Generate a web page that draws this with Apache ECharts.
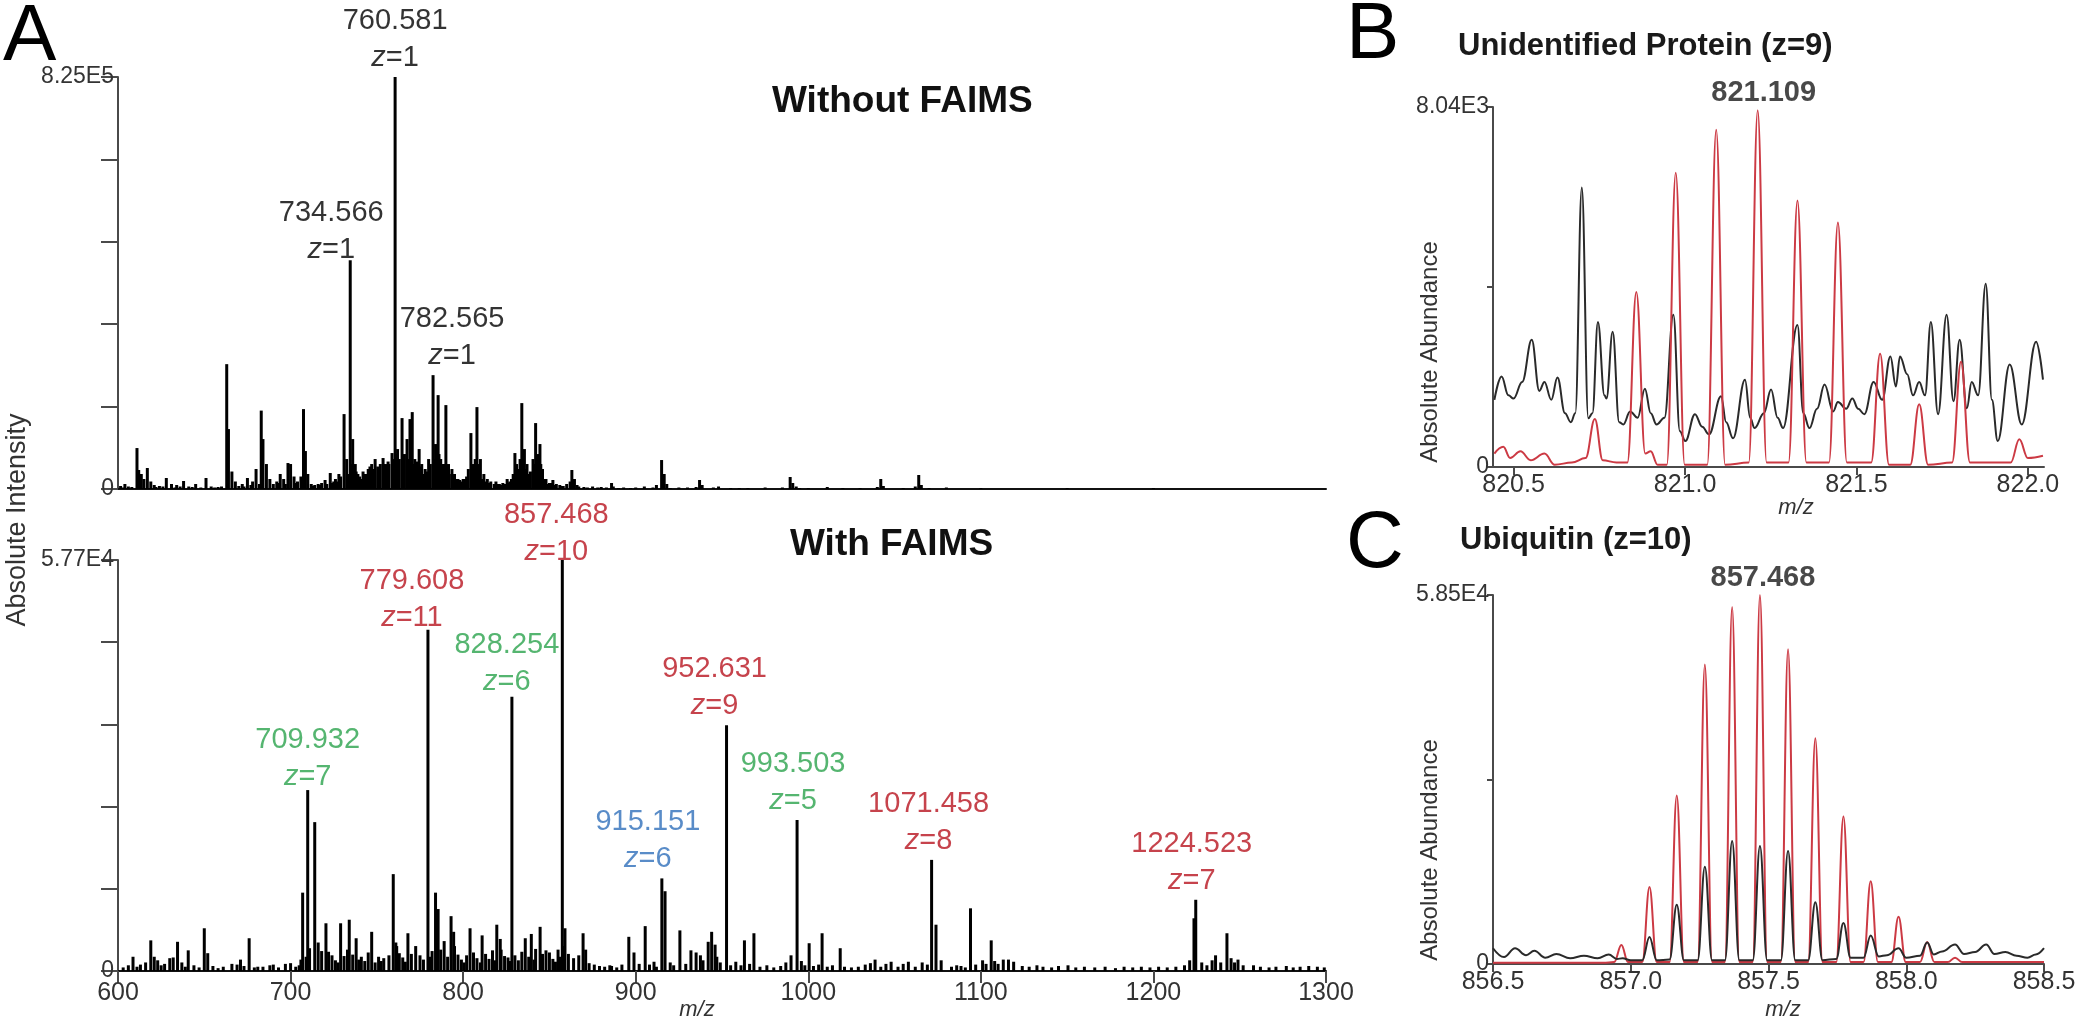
<!DOCTYPE html>
<html><head><meta charset="utf-8">
<script src="https://cdn.jsdelivr.net/npm/echarts@6/dist/echarts.min.js"></script>
<style>html,body{margin:0;padding:0;background:#fff}#c{width:2100px;height:1029px}</style>
</head><body><div id="c"></div>
<script>
// ---------------- DATA ----------------
// Panel A top (Without FAIMS): [m/z, intensity in units of 1E5]
const topPeaks = [[601.5,0.06],[604,0.1],[606,0.05],[611,0.82],[612,0.38],[613.5,0.3],[615,0.2],[617,0.42],[619,0.15],[621,0.08],[624,0.06],[628,0.22],[631,0.1],[634,0.08],[638,0.16],[641,0.05],[645,0.1],[651,0.22],[654,0.05],[658,0.04],
[663,2.5],[664,1.2],[666,0.35],[668,0.15],[672,0.1],[675,0.22],[678,0.15],[680,0.4],[683,1.57],[684,1.0],[686,0.5],[688,0.2],[692,0.15],[694,0.3],[696,0.2],[698.5,0.52],[700,0.5],[702,0.25],[704,0.15],[706,0.25],[707.5,1.6],[708.6,0.76],[710,0.3],[714,0.08],[716,0.1],[718,0.12],[720,0.18],[723,0.32],[725,0.15],[726,0.2],[728,0.3],[731,1.5],[732.5,0.6],
[734.566,4.58],[736,1.0],[737.5,0.5],[739,0.3],[741,0.2],[743,0.3],[745,0.4],[747,0.5],[749,0.6],[750.5,0.45],[752,0.5],[753.6,0.62],[755,0.5],[756.5,0.55],[758.8,0.72],[760.581,8.25],[762,0.8],[763,0.6],[764.6,1.42],[766,0.7],[767.5,1.0],[769.2,1.4],[770.5,1.54],[772,0.6],[774.5,0.8],[776,0.5],[778,0.4],[780,0.6],[782.565,2.28],[784,0.9],[785.5,1.88],[787,0.6],[788.5,0.5],[790,1.68],[791.5,0.5],[793.5,0.4],[795,0.3],[797,0.2],[799,0.15],[801,0.2],[803,0.4],[804.5,1.12],[806,0.5],[808,1.64],[810,0.6],[812,0.3],[814,0.2],[816,0.15],[819,0.15],[821,0.1],[823,0.12],[825.5,0.2],[827,0.15],[829,0.3],[830,0.72],[832,0.4],[834,1.72],[835.5,0.8],[837,0.5],[839,0.35],[840.5,0.6],[842,1.32],[843.5,0.7],[844.5,0.9],[846,0.4],[848,0.2],[850,0.12],[852,0.18],[854,0.1],[856,0.08],[858,0.06],[860,0.1],[863,0.38],[864.5,0.2],[866,0.08],[870,0.04],[875,0.05],[880,0.04],[886,0.12],[887,0.05],[893,0.03],[900,0.03],[905,0.05],[912,0.08],[915,0.58],[916.5,0.3],[918,0.1],[925,0.03],[930,0.03],[937,0.18],[938.5,0.08],[948,0.05],[955,0.02],[965,0.02],[975,0.03],[989.5,0.24],[991,0.12],[993,0.05],[1000,0.02],[1011,0.04],[1020,0.02],[1030,0.02],[1042,0.2],[1043.5,0.06],[1055,0.02],[1064,0.28],[1065.5,0.08],[1080,0.03],[1100,0.02],[1150,0.02],[1200,0.02]];
const topNoise = [[603,0.03],[608,0.04],[622,0.04],[626,0.05],[633,0.03],[636,0.05],[643,0.04],[648,0.03],[656,0.03],[660,0.05],[670,0.06],[673,0.05],[677,0.08],[682,0.1],[690,0.1],[693,0.12],[697,0.1],[703,0.12],[712,0.1],[713,0.06],[717,0.08],[721,0.1],[724,0.12],[727,0.15],[729,0.25],[733,0.3],[735.5,0.5],[738,0.35],[740,0.25],[742,0.35],[744,0.3],[746,0.45],[748,0.4],[751,0.4],[754,0.45],[757,0.5],[759.5,0.6],[761,0.7],[765,0.55],[768,0.6],[771,0.5],[773,0.55],[775,0.45],[777,0.3],[779,0.35],[781,0.5],[783,0.6],[786,0.7],[789,0.5],[792,0.3],[794,0.25],[796,0.2],[798,0.18],[800,0.2],[802,0.25],[805,0.4],[807,0.6],[809,0.5],[811,0.2],[813,0.15],[815,0.12],[818,0.1],[820,0.1],[822,0.08],[824,0.1],[826,0.12],[828,0.2],[831,0.5],[833,0.6],[836,0.4],[838,0.3],[841,0.5],[845,0.5],[847,0.2],[849,0.1],[851,0.12],[853,0.08],[857,0.06],[862,0.15],[867,0.05],[872,0.03],[878,0.03],[883,0.03],[890,0.02],[897,0.02],[910,0.03],[920,0.02],[935,0.04],[945,0.03],[960,0.02],[985,0.03],[995,0.02],[1040,0.04],[1062,0.05],[1070,0.02]];

// Panel A bottom (With FAIMS): [m/z, intensity in units of 1E3]
const botPeaks = [[608.7,2.0],[619,4.3],[621,2.0],[630,1.8],[634.5,4.1],[640.7,2.9],[650,6.0],[652,2.5],[666,1.0],[676,4.6],[684,0.6],[697,1.0],[707,11.0],[709.932,25.4],[714,20.9],[720.5,6.7],[722,2.7],[729,6.7],[734,7.2],[738,4.6],[747,5.5],[759.5,13.6],[761.5,3.5],[768,5.3],[772.5,3.5],[779.608,47.9],[784,11.0],[785.5,8.7],[793,7.7],[794.5,5.5],[804,6.0],[811,5.0],[819.5,6.5],[821.5,4.5],[828.254,38.5],[836,4.6],[839.5,5.2],[844.6,6.2],[848,2.9],[857.468,57.7],[859,6.0],[869.5,5.3],[871,3.0],[886,0.7],[896,4.8],[899,2.6],[905.5,6.3],[910.6,1.3],[915.151,13.0],[917,11.2],[925.6,5.7],[932,2.9],[935,2.6],[937.5,2.2],[942,4.1],[944,5.5],[946,3.7],[952.631,34.5],[963,4.3],[968.5,5.3],[990,2.2],[993.503,21.2],[1000.5,3.9],[1008,5.3],[1018.5,3.2],[1038.7,1.6],[1048,1.3],[1058,1.3],[1071.458,15.6],[1074,6.5],[1088.5,0.7],[1094,8.8],[1101,1.5],[1106,4.3],[1113,1.6],[1116,1.6],[1119,1.3],[1132.5,0.8],[1150.5,0.8],[1223.5,7.4],[1224.523,10.0],[1236,2.2],[1242.6,5.3],[1249,1.6],[1258,0.8],[1277,0.7]];
const botNoise = [[603,0.5],[606,0.8],[611,0.6],[613,0.9],[616,1.2],[623,1.5],[625,0.8],[627,1.0],[632,1.9],[637,1.2],[639,0.6],[644,0.8],[647,0.5],[655,0.7],[658,0.4],[661,0.6],[669,0.9],[671,1.6],[673,0.7],[679,0.5],[681,0.6],[688,0.8],[690,0.9],[693,0.5],[700,1.1],[703,0.6],[705,0.8],
[706,1.6],[709,2.0],[711,3.2],[716,4.0],[718,2.8],[724,2.2],[726,1.5],[727.5,1.2],[731,2.1],[733,3.0],[736,2.3],[739.5,1.6],[741,2.0],[743,1.4],[745,2.6],[749,1.2],[751,2.0],[752.5,1.4],[754,1.8],[757,2.2],[761,4.0],[763,2.5],[765,1.9],[766.5,1.3],[770,2.4],[775,2.2],[777,1.6],[780.5,2.0],[782,2.8],[787,3.0],[789,4.2],[791,2.0],[795,3.5],[797,2.3],[799,1.6],[800.5,1.2],[802,2.2],[806,2.6],[808,1.8],[810,1.2],[813,2.4],[815,1.7],[817,2.9],[818.5,1.5],[822,3.0],[824,2.1],[826,1.9],[827,1.4],[830,2.2],[832,1.5],[834,2.7],[838,2.0],[841,1.6],[842,3.1],[846,2.4],[850,2.6],[852,1.7],[853.5,1.3],[855,3.0],[856.2,2.0],[858.3,3.5],[861,2.4],[864,1.8],[867,2.2],[873,1.1],[876,0.9],[879,0.7],
[882,0.6],[885,0.8],[889,0.5],[892,0.9],[902,1.0],[908,0.9],[912,0.6],[920,1.2],[922,0.8],[929,1.0],[939,1.5],[947,2.0],[949,1.2],[955,0.8],[958,1.3],[961,0.8],[966,1.0],[972,0.6],[976,0.8],[980,0.5],[984,0.7],[987,1.2],[996,1.4],[998,0.8],
[1003,0.7],[1006,0.9],[1011,0.6],[1014,0.8],[1021,0.6],[1025,0.5],[1029,0.6],[1033,0.9],[1036,1.1],[1042,0.6],[1045,1.0],[1052,0.6],[1055,1.0],[1062,0.6],[1066,1.2],[1069,0.9],[1077,1.5],[1083,0.6],[1086,0.8],[1091,0.5],[1097,0.9],[1103,1.0],[1108,1.4],[1110,1.0],[1124,0.7],[1128,0.6],[1136,0.6],[1141,0.5],[1145,0.7],[1155,0.5],[1160,0.6],[1166,0.5],[1172,0.6],[1178,0.4],[1183,0.6],[1188,0.5],[1193,0.6],[1198,0.5],[1203,0.6],[1208,0.5],[1213,0.6],[1218,0.8],[1221,1.5],[1228,1.2],[1231,0.8],[1234,1.5],[1239,1.2],[1245,1.8],[1247,1.2],[1252,0.8],[1262,0.6],[1267,0.5],[1271,0.6],[1281,0.5],[1285,0.6],[1290,0.7],[1295,0.6],[1299,0.5]];

// Peak annotations
const topAnn = [
  {mz:760.581, I:8.25, text:'760.581', z:'1', color:'#000'},
  {mz:734.566, I:4.58, text:'734.566', z:'1', color:'#000'},
  {mz:782.565, I:2.28, text:'782.565', z:'1', color:'#000'}
];
const botAnn = [
  {mz:709.932, I:25.4, text:'709.932', z:'7', color:'#2aa24c'},
  {mz:779.608, I:47.9, text:'779.608', z:'11', color:'#b8141f'},
  {mz:828.254, I:38.5, text:'828.254', z:'6', color:'#2aa24c'},
  {mz:857.468, I:57.7, text:'857.468', z:'10', color:'#b8141f'},
  {mz:915.151, I:13.0, text:'915.151', z:'6', color:'#2f6fba'},
  {mz:952.631, I:34.5, text:'952.631', z:'9', color:'#b8141f'},
  {mz:993.503, I:21.2, text:'993.503', z:'5', color:'#2aa24c'},
  {mz:1071.458, I:15.6, text:'1071.458', z:'8', color:'#b8141f'},
  {mz:1224.523, I:10.0, text:'1224.523', z:'7', color:'#b8141f'}
];

// Panel B (Unidentified protein z=9): [m/z, abundance in 1E3]
const bExp = [[820.444,1.5],[820.465,2.02],[820.485,1.6],[820.5,1.53],[820.525,1.9],[820.553,2.84],[820.575,1.7],[820.59,1.9],[820.61,1.5],[820.628,2.0],[820.65,1.2],[820.667,1.0],[820.68,1.2],[820.699,6.24],[820.718,1.09],[820.73,1.2],[820.746,3.24],[820.765,1.6],[820.771,1.53],[820.789,3.02],[820.808,1.0],[820.82,0.95],[820.84,1.24],[820.862,1.1],[820.883,1.75],[820.9,1.2],[820.917,0.95],[820.94,1.1],[820.966,3.4],[820.985,0.8],[821.001,0.58],[821.029,1.18],[821.05,0.9],[821.07,0.73],[821.105,1.58],[821.12,1.0],[821.14,0.64],[821.175,1.95],[821.19,1.1],[821.203,0.87],[821.23,1.2],[821.251,1.73],[821.27,1.1],[821.286,0.87],[821.328,3.17],[821.345,1.2],[821.363,0.87],[821.385,1.3],[821.407,1.84],[821.432,1.24],[821.446,1.45],[821.47,1.3],[821.488,1.53],[821.505,1.3],[821.523,1.18],[821.55,1.9],[821.575,1.5],[821.599,2.47],[821.615,1.8],[821.627,2.47],[821.648,2.07],[821.665,1.6],[821.683,1.9],[821.7,1.6],[821.717,3.24],[821.738,1.18],[821.763,3.4],[821.783,1.47],[821.801,2.84],[821.822,1.31],[821.836,1.9],[821.855,1.6],[821.877,4.09],[821.895,1.5],[821.912,0.58],[821.947,2.29],[821.982,0.95],[822.024,2.8],[822.044,1.95]];
const bTheo = [[820.444,0.3],[820.47,0.45],[820.49,0.2],[820.52,0.35],[820.55,0.15],[820.59,0.3],[820.62,0.05],[820.67,0.1],[820.71,0.2],[820.737,1.07],[820.76,0.15],[820.80,0.1],[820.832,0.1],[820.858,3.91],[820.884,0.3],[820.9,0.35],[820.92,0.05],[820.947,0.05],[820.973,6.57],[820.999,0.05],[821.065,0.05],[821.091,7.53],[821.117,0.05],[821.186,0.1],[821.212,7.97],[821.238,0.1],[821.302,0.1],[821.328,5.95],[821.354,0.1],[821.42,0.1],[821.446,5.46],[821.472,0.1],[821.543,0.1],[821.569,2.53],[821.595,0.05],[821.657,0.05],[821.683,1.4],[821.709,0.05],[821.779,0.1],[821.805,2.35],[821.831,0.1],[821.95,0.1],[821.975,0.62],[822.0,0.2],[822.044,0.25]];

// Panel C (Ubiquitin z=10): [m/z, abundance in 1E3]
const cExp = [[856.5,2.5],[856.54,1.1],[856.58,2.5],[856.62,1.4],[856.65,2.1],[856.69,1.0],[856.73,1.6],[856.78,0.9],[856.83,1.3],[856.88,0.9],[856.92,1.5],[856.95,0.8],[856.97,0.9],[857.0,0.6],[857.042,0.6],[857.068,4.3],[857.094,0.6],[857.141,0.7],[857.167,9.4],[857.193,0.6],[857.243,0.6],[857.269,15.4],[857.295,0.6],[857.342,0.6],[857.368,19.5],[857.394,0.6],[857.443,0.6],[857.469,18.7],[857.495,0.6],[857.545,0.6],[857.571,17.9],[857.597,0.6],[857.644,0.6],[857.670,9.8],[857.696,0.6],[857.746,0.8],[857.772,6.5],[857.798,1.0],[857.845,1.0],[857.871,4.5],[857.9,1.2],[857.93,1.4],[857.972,2.5],[858.0,1.0],[858.05,1.3],[858.076,3.4],[858.1,1.5],[858.13,2.0],[858.177,3.1],[858.21,1.6],[858.25,1.9],[858.29,3.1],[858.32,1.6],[858.36,1.9],[858.4,1.3],[858.44,1.0],[858.47,1.5],[858.5,2.5]];
const cTheo = [[856.5,0.2],[856.9,0.2],[856.94,0.3],[856.966,3.0],[856.99,0.3],[857.042,0.3],[857.068,12.2],[857.094,0.3],[857.141,0.3],[857.167,26.7],[857.193,0.3],[857.243,0.3],[857.269,47.5],[857.295,0.3],[857.342,0.3],[857.368,56.6],[857.394,0.3],[857.443,0.3],[857.469,58.5],[857.495,0.3],[857.545,0.3],[857.571,49.9],[857.597,0.3],[857.644,0.3],[857.670,35.8],[857.696,0.3],[857.746,0.3],[857.772,23.4],[857.798,0.3],[857.845,0.3],[857.871,13.1],[857.897,0.3],[857.946,0.3],[857.972,7.5],[857.998,0.3],[858.05,0.3],[858.076,3.5],[858.102,0.3],[858.151,0.3],[858.177,1.0],[858.203,0.3],[858.5,0.3]];
const bAnn = {mz:821.212, I:7.97, text:'821.109'};
const cAnn = {mz:857.469, I:58.5, text:'857.468'};

// Axis ticks / labels
const xTicksA = [600,700,800,900,1000,1100,1200,1300];
const yTicksTop = [0, 825000], yLabelsTop = ['0','8.25E5'];
const yTicksBot = [0, 57700], yLabelsBot = ['0','5.77E4'];
const xTicksB = [820.5, 821.0, 821.5, 822.0];
const yTicksB = [0, 8040], yLabelsB = ['0','8.04E3'];
const xTicksC = [856.5, 857.0, 857.5, 858.0, 858.5];
const yTicksC = [0, 58500], yLabelsC = ['0','5.85E4'];

// ---------------- LAYOUT / STYLE ----------------
const FF = "'Liberation Sans', Arial, Helvetica, sans-serif";
const AX = '#4a4a4a';
// label shifts in px (dx, dy) relative to a label centred just above its peak
const annShiftTop = [[0,0],[-19,9],[19,0]];
const annShiftBot = [[0,6],[-16,7],[-5,4],[-6,11],[-14,0],[-12,0],[-4,0],[-3,0],[-4,0]];
const LH = 37;

const chart = echarts.init(document.getElementById('c'), null, {renderer:'canvas'});

function lookup(ticks, labels){ return v => { const i = ticks.findIndex(t => Math.abs(t - v) < 1e-6); return i >= 0 ? labels[i] : ''; }; }
function yAxisCfg(grid, max, interval, ticks, labels, tickLen){
  return {gridIndex:grid, type:'value', min:0, max:max, interval:interval,
    axisLine:{show:true, lineStyle:{color:AX, width:2}},
    axisTick:{show:true, length:tickLen, lineStyle:{color:AX, width:2}},
    axisLabel:{formatter:lookup(ticks, labels), fontSize:23, color:'#333', fontFamily:FF, margin:4},
    splitLine:{show:false}};
}
function annItem(a, scale){
  return {value:[a.mz, a.I*scale], label:{show:true, position:'top', distance:0,
    formatter:'{n|' + a.text + '}\n{i|z}{n|=' + a.z + '}',
    rich:{n:{color:a.color, fontSize:29, lineHeight:LH, fontFamily:FF}, i:{color:a.color, fontSize:29, lineHeight:LH, fontFamily:FF, fontStyle:'italic'}}}};
}
function shiftLayout(shifts){ return p => { const s = shifts[p.dataIndex] || [0,0]; return {dx:s[0], dy:s[1], hideOverlap:false}; }; }
const annSeriesBase = {type:'scatter', symbolSize:1, itemStyle:{color:'rgba(0,0,0,0)'}, silent:true, z:10};
const plain = v => String(Math.round(v));

const option = {
  animation:false,
  backgroundColor:'#fff',
  grid:[
    {left:118, top:77, width:1208, height:412},
    {left:118, top:560, width:1208, height:411},
    {left:1493, top:107, width:551, height:360},
    {left:1493, top:595, width:551, height:369}
  ],
  xAxis:[
    {gridIndex:0, type:'value', min:600, max:1300, axisLine:{show:true, onZero:false, lineStyle:{color:'#111', width:2}}, axisTick:{show:false}, axisLabel:{show:false}, splitLine:{show:false}},
    {gridIndex:1, type:'value', min:600, max:1300, interval:100,
      axisLine:{show:true, onZero:false, lineStyle:{color:'#111', width:2}},
      axisTick:{show:true, length:12, lineStyle:{color:AX, width:2}, customValues:xTicksA},
      axisLabel:{fontSize:25, color:'#333', fontFamily:FF, margin:10, customValues:xTicksA, formatter:plain}, splitLine:{show:false}},
    {gridIndex:2, type:'value', min:820.44, max:822.047,
      axisLine:{show:true, onZero:false, lineStyle:{color:AX, width:2}},
      axisTick:{show:true, length:8, lineStyle:{color:AX, width:2}, customValues:xTicksB},
      axisLabel:{fontSize:25, color:'#333', fontFamily:FF, margin:6, customValues:xTicksB, formatter:v=>v.toFixed(1)}, splitLine:{show:false}},
    {gridIndex:3, type:'value', min:856.5, max:858.5, interval:0.5,
      axisLine:{show:true, onZero:false, lineStyle:{color:AX, width:2}},
      axisTick:{show:true, length:8, lineStyle:{color:AX, width:2}, customValues:xTicksC},
      axisLabel:{fontSize:25, color:'#333', fontFamily:FF, margin:6, customValues:xTicksC, formatter:v=>v.toFixed(1)}, splitLine:{show:false}}
  ],
  yAxis:[
    yAxisCfg(0, 825000, 165000, yTicksTop, yLabelsTop, 17),
    yAxisCfg(1, 57700, 11540, yTicksBot, yLabelsBot, 17),
    yAxisCfg(2, 8040, 4020, yTicksB, yLabelsB, 6),
    yAxisCfg(3, 58500, 29250, yTicksC, yLabelsC, 6)
  ],
  series:[
    {type:'bar', xAxisIndex:0, yAxisIndex:0, barWidth:3, itemStyle:{color:'#000'}, silent:true,
      data:topPeaks.concat(topNoise).map(p=>[p[0], p[1]*1e5])},
    {type:'bar', xAxisIndex:1, yAxisIndex:1, barWidth:3, itemStyle:{color:'#000'}, silent:true,
      data:botPeaks.concat(botNoise).map(p=>[p[0], p[1]*1e3])},
    {type:'line', xAxisIndex:2, yAxisIndex:2, data:bExp.map(p=>[p[0],p[1]*1e3]), showSymbol:false, smooth:0.4, smoothMonotone:'x', lineStyle:{color:'#2a2a2a', width:2}, silent:true, z:3},
    {type:'line', xAxisIndex:2, yAxisIndex:2, data:bTheo.map(p=>[p[0],p[1]*1e3]), showSymbol:false, smooth:0.4, smoothMonotone:'x', lineStyle:{color:'#cc3a44', width:2}, silent:true, z:4},
    {type:'line', xAxisIndex:3, yAxisIndex:3, data:cTheo.map(p=>[p[0],p[1]*1e3]), showSymbol:false, smooth:0.4, smoothMonotone:'x', lineStyle:{color:'#cc3a44', width:2}, silent:true, z:3},
    {type:'line', xAxisIndex:3, yAxisIndex:3, data:cExp.map(p=>[p[0],p[1]*1e3]), showSymbol:false, smooth:0.4, smoothMonotone:'x', lineStyle:{color:'#2a2a2a', width:2}, silent:true, z:4},
    Object.assign({}, annSeriesBase, {xAxisIndex:0, yAxisIndex:0, labelLayout:shiftLayout(annShiftTop), data:topAnn.map(a=>annItem(a, 1e5))}),
    Object.assign({}, annSeriesBase, {xAxisIndex:1, yAxisIndex:1, labelLayout:shiftLayout(annShiftBot), data:botAnn.map(a=>annItem(a, 1e3))}),
    Object.assign({}, annSeriesBase, {xAxisIndex:2, yAxisIndex:2, labelLayout:shiftLayout([[6,-2]]), data:[{value:[bAnn.mz, bAnn.I*1e3], label:{show:true, position:'top', distance:0, formatter:bAnn.text, fontSize:29, fontWeight:'bold', color:'#1a1a1a', fontFamily:FF}}]}),
    Object.assign({}, annSeriesBase, {xAxisIndex:3, yAxisIndex:3, labelLayout:shiftLayout([[3,-2]]), data:[{value:[cAnn.mz, cAnn.I*1e3], label:{show:true, position:'top', distance:0, formatter:cAnn.text, fontSize:29, fontWeight:'bold', color:'#1a1a1a', fontFamily:FF}}]})
  ],
  graphic:[
    {type:'text', x:3, y:38, style:{text:'A', font:'80px '+FF, fill:'#000', textVerticalAlign:'middle'}},
    {type:'text', x:1346, y:36, style:{text:'B', font:'80px '+FF, fill:'#000', textVerticalAlign:'middle'}},
    {type:'text', x:1346, y:545, style:{text:'C', font:'80px '+FF, fill:'#000', textVerticalAlign:'middle'}},
    {type:'text', x:772, y:102, style:{text:'Without FAIMS', font:'bold 37px '+FF, fill:'#111', textVerticalAlign:'middle'}},
    {type:'text', x:790, y:545, style:{text:'With FAIMS', font:'bold 37px '+FF, fill:'#111', textVerticalAlign:'middle'}},
    {type:'text', x:1458, y:46, style:{text:'Unidentified Protein (z=9)', font:'bold 31px '+FF, fill:'#1a1a1a', textVerticalAlign:'middle'}},
    {type:'text', x:1460, y:540, style:{text:'Ubiquitin (z=10)', font:'bold 31px '+FF, fill:'#1a1a1a', textVerticalAlign:'middle'}},
    {type:'text', x:18, y:520, rotation:Math.PI/2, style:{text:'Absolute Intensity', font:'27px '+FF, fill:'#333', textAlign:'center', textVerticalAlign:'middle'}},
    {type:'text', x:1430, y:352, rotation:Math.PI/2, style:{text:'Absolute Abundance', font:'24px '+FF, fill:'#333', textAlign:'center', textVerticalAlign:'middle'}},
    {type:'text', x:1430, y:850, rotation:Math.PI/2, style:{text:'Absolute Abundance', font:'24px '+FF, fill:'#333', textAlign:'center', textVerticalAlign:'middle'}},
    {type:'text', x:697, y:1010, style:{text:'m/z', font:'italic 22px '+FF, fill:'#333', textAlign:'center', textVerticalAlign:'middle'}},
    {type:'text', x:1796, y:508, style:{text:'m/z', font:'italic 22px '+FF, fill:'#333', textAlign:'center', textVerticalAlign:'middle'}},
    {type:'text', x:1783, y:1010, style:{text:'m/z', font:'italic 22px '+FF, fill:'#333', textAlign:'center', textVerticalAlign:'middle'}}
  ]
};
chart.setOption(option);
</script></body></html>
